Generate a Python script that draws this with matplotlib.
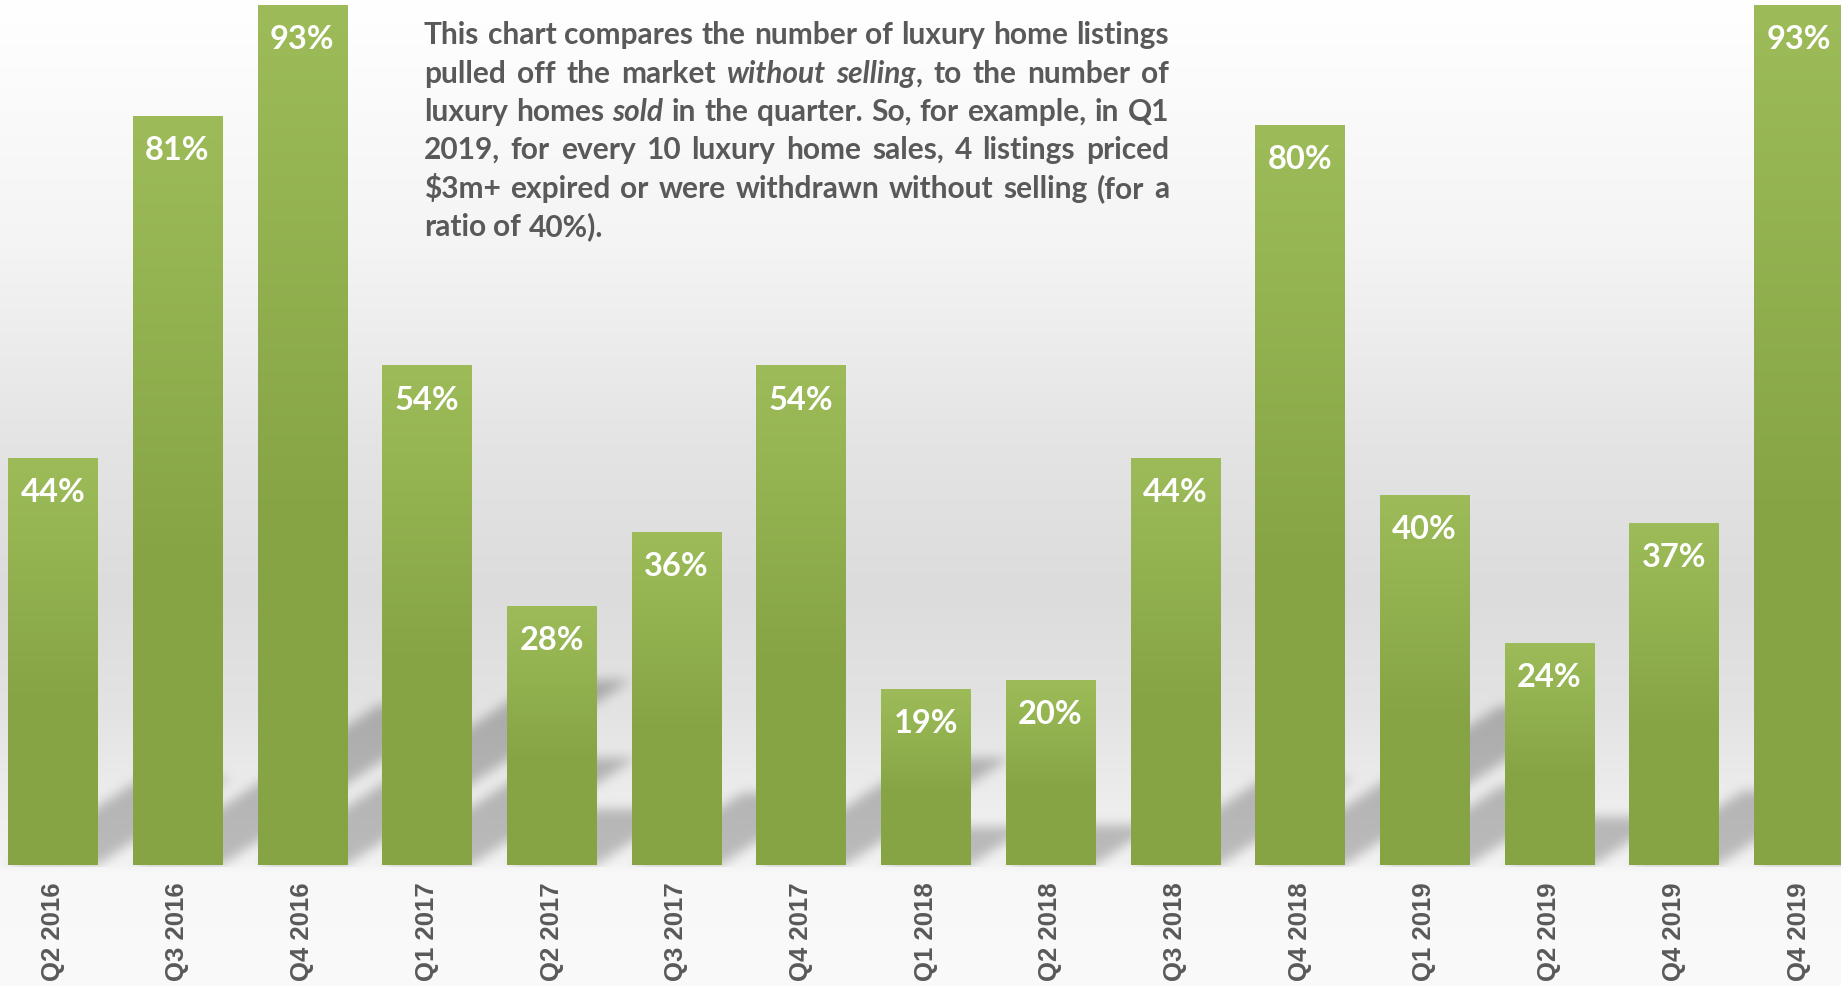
import numpy as np
import matplotlib
matplotlib.use("Agg")
import matplotlib.pyplot as plt
from matplotlib import font_manager
from matplotlib.path import Path

# ratio of expired/withdrawn $3m+ listings to sales, per quarter
quarters = ["Q2 2016", "Q3 2016", "Q4 2016", "Q1 2017", "Q2 2017", "Q3 2017",
            "Q4 2017", "Q1 2018", "Q2 2018", "Q3 2018", "Q4 2018", "Q1 2019",
            "Q2 2019", "Q4 2019", "Q4 2019"]
ratios = [44, 81, 93, 54, 28, 36, 54, 19, 20, 44, 80, 40, 24, 37, 93]

# note text, line by line; (text, italic) pieces
note_lines = [
    [("This chart compares the number of luxury home listings", False)],
    [("pulled off the market ", False), ("without selling", True), (", to the number of", False)],
    [("luxury homes ", False), ("sold", True), (" in the quarter. So, for example, in Q1", False)],
    [("2019, for every 10 luxury home sales, 4 listings priced", False)],
    [(r"\$3m+ expired or were withdrawn without selling (for a", False)],
    [("ratio of 40%).", False)],
]

W, H = 1841, 987
names = {f.name for f in font_manager.fontManager.ttflist}
narrow = "Liberation Sans Narrow" if "Liberation Sans Narrow" in names else "Lato"
grey_txt = "#595959"

fig = plt.figure(figsize=(W / 100, H / 100), dpi=100)

# background axes in pixel units (y down)
bg = fig.add_axes([0, 0, 1, 1], zorder=0)
bg.set_xlim(0, W)
bg.set_ylim(H, 0)
bg.axis("off")

base_frac = (H - 866) / H
ax = fig.add_axes([0, base_frac, 1, 866 / H], zorder=1)
ax.patch.set_alpha(0)
x = np.arange(len(ratios))
ax.set_xlim(-0.423, 14.34)
ax.set_ylim(0, 93.7)
for s in ax.spines.values():
    s.set_visible(False)
ax.set_yticks([])
ax.set_xticks(x)
ax.set_xticklabels(quarters, rotation=90, fontsize=18.5, fontweight="bold",
                   color=grey_txt, family="Liberation Sans", va="top")
ax.tick_params(axis="x", length=0, pad=12)

bar_w = 0.714
bars = ax.bar(x, ratios, width=bar_w, color="#88a646", zorder=2)

# --- background gradient + perspective shadows ---
rows = np.arange(H) / H
stops_y = [0.0, 0.25, 0.45, 0.6, 0.72, 0.82, 0.875, 0.885, 1.0]
stops_v = [255, 244, 228, 220, 227, 238, 243, 248, 250]
grad = np.interp(rows, stops_y, stops_v)
img = np.repeat(grad[:, None], W, axis=1)

fig.canvas.draw()
yy, xx = np.mgrid[0:H, 0:W]
pts = np.column_stack([xx.ravel() + 0.5, (H - yy.ravel()) - 0.5])
mask = np.zeros(H * W)
for b, v in zip(bars, ratios):
    x0, x1 = b.get_x(), b.get_x() + b.get_width()
    dx = 0.0245 * v
    dy = 0.215 * v
    poly = np.array([[x0, 0], [x1, 0], [x1 + dx, dy], [x0 + dx, dy]])
    poly_px = ax.transData.transform(poly)
    mask = np.maximum(mask, Path(poly_px).contains_points(pts).astype(float))
mask = mask.reshape(H, W)


def box_blur(a, r):
    for axis in (0, 1):
        pad = [(0, 0), (0, 0)]
        pad[axis] = (r + 1, r)
        c = np.cumsum(np.pad(a, pad, mode="edge"), axis=axis)
        n = a.shape[axis]
        a = (np.take(c, range(2 * r + 1, n + 2 * r + 1), axis=axis)
             - np.take(c, range(0, n), axis=axis)) / (2 * r + 1)
    return a


for _ in range(3):
    mask = box_blur(mask, 5)
mask[868:, :] = 0
img = img - 56 * mask
bg.imshow(np.dstack([img, img, img]) / 255.0, extent=(0, W, H, 0),
          aspect="auto", interpolation="bilinear", zorder=0)

# --- gradient fill of bars ---
light = np.array([157, 188, 89]) / 255.0
dark = np.array([134, 164, 68]) / 255.0
t = np.linspace(0, 1, 200)
k = np.clip(t / 0.6, 0, 1)
col = light[None, :] * (1 - k[:, None]) + dark[None, :] * k[:, None]
col = col[:, None, :]
for b in bars:
    ax.imshow(col, extent=(b.get_x(), b.get_x() + b.get_width(), 0, b.get_height()),
              aspect="auto", zorder=3, interpolation="bilinear")
ax.set_xlim(-0.423, 14.34)
ax.set_ylim(0, 93.7)

for xi, v in zip(x, ratios):
    ax.text(xi, v - 3.6, f"{v}%", ha="center", va="center", color="white",
            fontsize=23.5, fontweight="bold", family=narrow, zorder=4)

# --- justified note text ---
renderer = fig.canvas.get_renderer()
left, right = 424, 1169
baselines = [44, 83, 121, 159, 198, 236]


def words_of(segments):
    words = [[]]
    for text, italic in segments:
        parts = text.split(" ")
        for j, p in enumerate(parts):
            if j > 0:
                words.append([])
            if p:
                words[-1].append((p, italic))
    return [w for w in words if w]


def piece(xp, yp, s, italic, size):
    return bg.text(xp, yp, s, ha="left", va="baseline", fontsize=size,
                   fontweight="bold", style="italic" if italic else "normal",
                   family=narrow, color=grey_txt, zorder=5)


def measure(s, italic, size):
    tt = piece(0, -100, s, italic, size)
    w = tt.get_window_extent(renderer).width
    tt.remove()
    return w


# pick a size so the longest full line fits the box
base = 20
sp = measure("a a", False, base) - measure("aa", False, base)
natural = []
for seg in note_lines[:-1]:
    words = words_of(seg)
    wsum = sum(measure(s, it, base) for w in words for s, it in w)
    natural.append(wsum + sp * (len(words) - 1))
note_size = min(22.5, base * 0.99 * (right - left) / max(natural))
space_w = measure("a a", False, note_size) - measure("aa", False, note_size)

for li, (seg, yb) in enumerate(zip(note_lines, baselines)):
    words = words_of(seg)
    placed = []
    widths = []
    for w in words:
        ws = []
        for s, it in w:
            tt = piece(0, yb, s, it, note_size)
            ws.append((tt, tt.get_window_extent(renderer).width))
        placed.append(ws)
        widths.append(sum(p[1] for p in ws))
    if li < len(note_lines) - 1 and len(words) > 1:
        gap = (right - left - sum(widths)) / (len(words) - 1)
    else:
        gap = space_w
    xc = left
    for ws, wd in zip(placed, widths):
        xp = xc
        for tt, pw in ws:
            tt.set_x(xp)
            xp += pw
        xc += wd + gap

fig.savefig("out.png", dpi=100)
